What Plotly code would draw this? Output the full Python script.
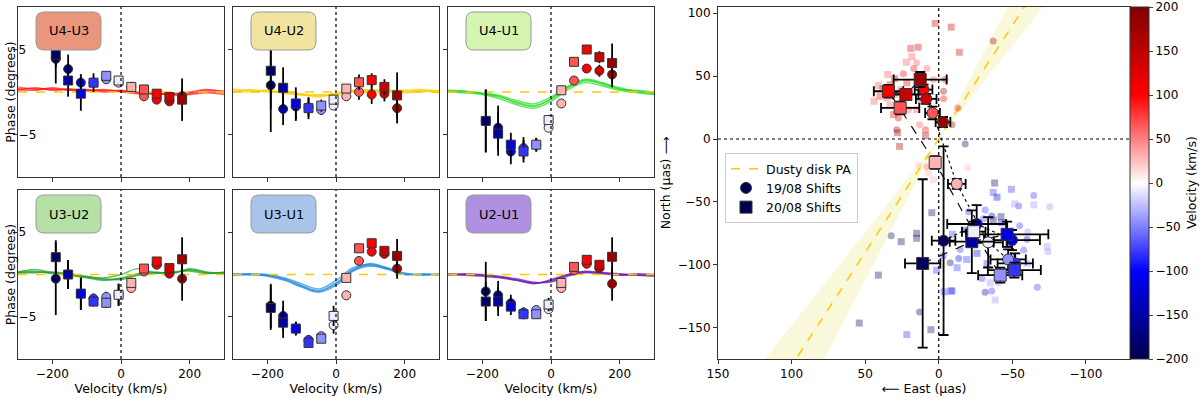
import math
import plotly.graph_objects as go

W, H = 1200, 398

# ---------------- data: differential phases per baseline ----------------
vel = [-190, -154, -117, -80, -43, -7, 30, 67, 104, 141, 178]
baselines = ["U4-U3", "U4-U2", "U4-U1", "U3-U2", "U3-U1", "U2-U1"]

# 19/08 (circles)
ph19_u4u3 = [3.9, 2.7, 1.1, 1.1, 1.5, 1.1, 0.6, -0.5, -0.9, -1.1, -0.5]
er19_u4u3 = [1.0, 1.7, 1.0, 0.6, 0.3, 0.3, 0.3, 0.3, 0.3, 0.4, 1.0]
ph19_u4u2 = [0.8, -2.0, -1.7, -1.8, -2.1, -1.6, -0.5, 0.0, -0.3, -0.2, -1.9]
er19_u4u2 = [5.5, 1.9, 1.7, 1.1, 0.6, 0.4, 0.4, 0.9, 1.1, 0.9, 1.8]
ph19_u4u1 = [-3.4, -4.2, -7.0, -6.6, -6.2, -4.2, -1.35, 1.35, 2.76, 2.5, 2.06]
er19_u4u1 = [3.7, 2.6, 1.5, 1.3, 0.8, 0.4, 0.4, 0.4, 0.5, 0.7, 1.5]
ph19_u3u2 = [-0.5, 0.0, -2.3, -2.85, -2.65, -2.4, -1.6, 0.36, 1.15, 0.1, -0.5]
er19_u3u2 = [4.3, 1.7, 1.9, 0.6, 0.6, 1.3, 0.3, 0.3, 0.4, 0.4, 2.6]
ph19_u3u1 = [-3.7, -4.9, -6.4, -7.75, -7.3, -6.0, -2.46, 1.6, 2.7, 2.45, 0.7]
er19_u3u1 = [2.6, 1.8, 0.8, 0.6, 0.4, 1.0, 0.3, 0.3, 0.4, 0.4, 1.2]
ph19_u2u1 = [-2.0, -2.46, -3.4, -4.5, -4.2, -4.1, -1.6, 0.5, 1.27, 0.76, -1.1]
er19_u2u1 = [3.5, 1.7, 1.0, 0.6, 0.4, 0.5, 0.3, 0.3, 0.4, 0.4, 2.0]

# 20/08 (squares)
ph20_u4u3 = [4.4, 1.35, -0.2, 1.1, 1.9, 1.35, 0.6, 0.3, -0.2, -0.6, -0.9]
er20_u4u3 = [3.4, 1.9, 2.0, 1.1, 0.4, 0.3, 0.3, 0.3, 0.3, 0.5, 2.5]
ph20_u4u2 = [2.5, 0.5, -1.35, -1.9, -1.6, -0.9, 0.4, 1.15, 1.4, 0.6, -0.4]
er20_u4u2 = [4.5, 2.4, 1.9, 1.3, 0.7, 0.4, 0.4, 0.9, 0.8, 0.9, 2.7]
ph20_u4u1 = [-3.4, -4.9, -6.2, -7.0, -6.2, -3.3, 0.2, 3.55, 5.0, 4.1, 3.4]
er20_u4u1 = [3.7, 2.6, 1.4, 1.3, 0.8, 0.4, 0.4, 0.4, 0.5, 0.7, 2.3]
ph20_u3u2 = [2.05, 0.0, -2.26, -3.2, -3.35, -2.4, -1.0, 0.7, 1.54, 0.76, 1.8]
er20_u3u2 = [2.0, 1.7, 1.9, 0.6, 0.6, 1.3, 0.3, 0.3, 0.4, 0.4, 2.6]
ph20_u3u1 = [-3.95, -5.7, -6.4, -8.1, -7.6, -4.9, -0.4, 3.1, 3.7, 2.8, 2.2]
er20_u3u1 = [2.6, 1.8, 0.8, 0.6, 0.4, 1.2, 0.3, 0.3, 0.4, 0.4, 2.0]
ph20_u2u1 = [-3.2, -3.2, -3.8, -4.7, -4.7, -3.55, -1.0, 0.9, 1.74, 1.15, 2.1]
er20_u2u1 = [2.3, 1.7, 1.0, 0.6, 0.4, 0.8, 0.3, 0.3, 0.4, 0.4, 2.3]

# model phase curves (several realisations per baseline)
model_v = [-300, -250, -200, -150, -100, -50, 0, 50, 100, 150, 200, 250, 300]
mod_u4u3 = [
    [0.4, 0.4, 0.3, 0.3, 0.2, 0.2, 0.1, -0.1, -0.2, -0.3, -0.2, 0.0, -0.1],
    [0.6, 0.3, 0.4, 0.2, 0.3, 0.1, 0.2, 0.0, -0.3, -0.2, -0.1, 0.2, 0.1],
    [0.2, 0.5, 0.2, 0.4, 0.1, 0.3, 0.0, -0.2, -0.1, -0.4, -0.3, -0.1, -0.3],
    [0.3, 0.2, 0.5, 0.2, 0.2, 0.0, 0.1, -0.1, -0.2, -0.2, 0.0, 0.3, 0.0],
]
mod_u4u2 = [
    [0.2, 0.2, 0.1, 0.0, -0.3, -0.4, -0.2, 0.1, 0.2, 0.1, 0.0, 0.1, 0.0],
    [0.4, 0.1, 0.2, -0.1, -0.2, -0.5, -0.1, 0.2, 0.1, 0.2, 0.2, 0.3, 0.1],
    [0.0, 0.3, 0.0, 0.1, -0.4, -0.3, -0.3, 0.0, 0.3, 0.0, -0.1, 0.0, 0.2],
    [0.1, 0.0, 0.2, -0.2, -0.3, -0.6, -0.2, 0.1, 0.2, 0.1, 0.1, 0.2, -0.1],
]
mod_u4u1 = [
    [0.1, 0.0, -0.2, -0.6, -1.2, -1.6, -0.9, 0.5, 1.3, 0.9, 0.3, 0.1, -0.1],
    [0.2, 0.1, -0.1, -0.4, -1.0, -1.4, -0.6, 0.7, 1.5, 1.1, 0.4, 0.2, 0.0],
    [0.0, -0.1, -0.3, -0.8, -1.5, -1.9, -1.1, 0.3, 1.1, 0.7, 0.2, -0.1, -0.3],
    [0.1, 0.1, -0.2, -0.5, -1.3, -1.7, -0.8, 0.6, 1.4, 1.0, 0.5, 0.0, -0.2],
]
mod_u3u2 = [
    [0.2, 0.3, 0.2, 0.0, -0.3, -0.6, -0.5, 0.0, 0.2, 0.2, 0.5, 0.2, 0.2],
    [0.3, 0.4, 0.1, -0.1, -0.4, -0.7, -0.4, 0.1, 0.3, 0.1, 0.7, 0.3, 0.1],
    [0.2, 0.2, 0.3, 0.1, -0.2, -0.5, -0.6, -0.1, 0.1, 0.3, 0.4, 0.1, 0.3],
    [0.3, 0.6, 0.2, 0.0, -0.3, -0.4, 0.0, 0.7, 0.2, 0.2, 0.6, 0.2, 0.2],
]
mod_u3u1 = [
    [0.0, 0.0, -0.1, -0.5, -1.3, -1.9, -1.0, 0.6, 1.1, 0.7, 0.1, 0.0, 0.0],
    [0.1, 0.0, -0.2, -0.7, -1.5, -2.1, -1.3, 0.4, 1.0, 0.6, 0.0, 0.1, -0.1],
    [0.0, 0.1, 0.0, -0.4, -1.1, -1.7, -0.7, 0.8, 1.2, 0.8, 0.2, -0.1, 0.1],
    [-0.1, 0.0, -0.1, -0.6, -1.4, -2.0, -1.1, 0.5, 1.3, 0.7, 0.0, 0.0, 0.0],
]
mod_u2u1 = [
    [0.0, 0.0, -0.1, -0.3, -0.6, -1.0, -0.8, -0.1, 0.3, 0.1, 0.0, 0.0, -0.1],
    [0.1, -0.1, -0.2, -0.4, -0.7, -1.1, -0.6, 0.0, 0.4, 0.2, 0.1, -0.1, 0.0],
    [0.0, 0.1, 0.0, -0.2, -0.5, -0.9, -0.9, -0.2, 0.2, 0.1, -0.1, 0.1, 0.0],
    [-0.1, 0.0, -0.1, -0.3, -0.7, -1.0, -0.7, 0.0, 0.3, 0.2, 0.0, -0.1, -0.2],
]

# ---------------- data: photocentre shifts ----------------
sh20_x = [10.9, -22.5, -46.5, -51.4, -41.8, -23.8, 2.4, 26.2, 34.1, 22.3, 12.6]
sh20_y = [-99, -81.7, -75.8, -104.3, -108.3, -73.7, -18.7, 24.7, 38, 35.4, 47.3]
sh20_xe = [12, 15, 28, 18, 15, 8, 3, 13, 10, 8.5, 18]
sh20_ye = [67, 25, 10, 6, 6, 8, 5, 5, 5, 4, 6]
sh19_x = [-3.3, -25.8, -49.8, -52, -47.2, -33.6, -12.3, 4.2, 10.3, 8.5, -2.9]
sh19_y = [-80.9, -67.6, -80.4, -99, -95.8, -82.2, -35.7, 20.7, 39.3, 31.9, 13.5]
sh19_xe = [8, 20, 19, 12, 12, 10, 6, 5, 6, 7, 5]
sh19_ye = [75, 15, 8, 8, 8, 20, 4, 5, 4, 4, 4]

# individual (faint) shift estimates: 0 = circle (19/08), 1 = square (20/08)
bg_x = [2.4, -8.5, 19, 14, 18.2, -14, 22, 15, 8, 17, 34.7, 41, 40, 33, 30.7, 27.4,
        28.5, 28, 26.6, 9, 9, 13, -3.3, -3.3, 3.6, -4.3, -9, -13, 26.2, 19.4, 20.5,
        15, 21.7, 33, 29.7, 35, 8, 7, 3.6, 13.8, -37, -19.6, -18, 38, 25, 30, 12, 44, 24,
        -38, -49.4, -64.6, -37, -39.6, -51.6, -54.3, -64.6, -75.5, -31.6, -36, -37,
        -42.6, -55, -60.5, -47.5, -73.6, -74.3, -60, -57.7, -60, -26, -32.8, -29.4,
        -35, -40.6, -31.6, -36, -38.4, -67, -13.6, -19, -14.6, -7.8, -18, -9, -45.2,
        -42.3, -30.4, 32.3, 25.5, 15, 15, 4.7, 41, 54, 21.7, 13, 5.3, 1.5, -3.7, -8.2,
        -3.1, -12.5, -9.4, -20.2]
bg_y = [92, 89, 72, 73, 65.5, 69, 61, 60.6, 56, 56, 51.3, 42.5, 34, 27, 19.4, 16.8,
        7.4, 5, -5.9, 2.6, 7.4, 11.4, 32, 38, 47.3, 47.3, 11.4, 24.7, 39.3, 36.7, 23.4,
        23.4, 44.7, 43.3, 35.4, 32.7, -22, -27, -32.5, -21.3, 78, -22.7, -4, 40, 30, 48, 30, 30, 52,
        -35, -40, -45, -42.6, -46.3, -51.6, -53.2, -52.4, -53.8, -56.4, -61.2, -64.4,
        -66.5, -69, -73.7, -83.8, -85.7, -89.7, -79.8, -88.3, -99, -91, -99, -111,
        -114.4, -114.4, -121.9, -121, -128, -118, -95, -95.8, -87.8, -98.5, -72.4, -120.8, -105.7,
        -61.8, -63.4, -77, -81.7, -75, -79, -58.6, -108.3, -146.4, -155.6, -137.6, -151.7, -104.3, -121.6, -121,
        -92.9, -102.4, -75.8, -57.8]
bg_sym = [1, 1, 1, 1, 1, 1, 1, 0, 0, 0, 1, 1, 1, 1, 1, 0,
          0, 1, 1, 1, 0, 0, 0, 0, 0, 0, 0, 0, 0, 0, 0,
          1, 1, 1, 1, 1, 0, 1, 1, 0, 0, 0, 0, 1, 0, 1, 0, 1, 0,
          1, 1, 0, 1, 1, 1, 0, 1, 0, 0, 0, 1,
          1, 0, 0, 1, 1, 0, 0, 0, 1, 1, 1, 0,
          1, 0, 0, 0, 1, 0, 0, 1, 0, 0, 0, 1, 1,
          1, 0, 0, 1, 1, 1, 1, 1, 1, 1, 0, 1, 1, 1, 1,
          0, 1, 1, 0]
bg_v = [141, 141, 104, 141, 67, 141, 67, 67, 67, 104, 67, 67, 104, 67, 104, 104,
        178, 178, 178, 178, 104, 67, 104, 178, 67, 104, 178, 104, 67, 104, 67,
        67, 104, 104, 67, 67, 67, 30, 30, 30, 178, 30, -190, 141, 141, 141, 141, 67, 104,
        -190, -80, -80, -80, -117, -43, -80, -43, -43, -80, -117, -190,
        -117, -80, -43, -117, -43, -43, -117, -80, -43, -117, -80, -80,
        -43, -43, -154, -80, -43, -80, -117, -80, -80, -190, -117, -117, -80,
        -190, -80, -190, -190, -190, -190, -190, -190, -190, -80, -190, -190, -80, -80, -80,
        -80, -80, -80, -80]

disk_pa = 151.0      # deg, E of N
disk_pa_err = 5.0

vel_range = [-300, 300]
phase_range = [-10, 10]
east_range = [150, -130]
north_range = [-175, 105]

# ---------------- styling ----------------
seismic = [[0.0, "rgb(0,0,77)"], [0.25, "rgb(0,0,255)"], [0.5, "rgb(255,255,255)"],
           [0.75, "rgb(255,0,0)"], [1.0, "rgb(128,0,0)"]]
FONT = "DejaVu Sans"

panels = [
    (ph19_u4u3, er19_u4u3, ph20_u4u3, er20_u4u3, mod_u4u3),
    (ph19_u4u2, er19_u4u2, ph20_u4u2, er20_u4u2, mod_u4u2),
    (ph19_u4u1, er19_u4u1, ph20_u4u1, er20_u4u1, mod_u4u1),
    (ph19_u3u2, er19_u3u2, ph20_u3u2, er20_u3u2, mod_u3u2),
    (ph19_u3u1, er19_u3u1, ph20_u3u1, er20_u3u1, mod_u3u1),
    (ph19_u2u1, er19_u2u1, ph20_u2u1, er20_u2u1, mod_u2u1),
]
line_cols = ["rgba(255,20,20,0.65)", "rgba(255,205,0,0.7)", "rgba(30,220,30,0.7)",
             "rgba(30,160,40,0.7)", "rgba(30,135,220,0.7)", "rgba(110,30,170,0.7)"]
box_cols = ["rgb(233,150,125)", "rgb(240,228,160)", "rgb(213,244,176)",
            "rgb(182,224,166)", "rgb(168,196,232)", "rgb(176,144,224)"]

cols_px = [(18, 224), (233, 439), (448, 654)]
rows_px = [(7, 177), (190, 359)]


def xd(a, b):
    return [a / W, b / W]


def yd(a, b):
    return [1 - b / H, 1 - a / H]


def rounded(x0, y0, x1, y1, r):
    def p(x, y):
        return f"{x / W:.5f},{1 - y / H:.5f}"
    return (f"M {p(x0 + r, y0)} L {p(x1 - r, y0)} Q {p(x1, y0)} {p(x1, y0 + r)} "
            f"L {p(x1, y1 - r)} Q {p(x1, y1)} {p(x1 - r, y1)} L {p(x0 + r, y1)} "
            f"Q {p(x0, y1)} {p(x0, y1 - r)} L {p(x0, y0 + r)} Q {p(x0, y0)} {p(x0 + r, y0)} Z")


fig = go.Figure()
shapes = []
annotations = []
axis_common = dict(showline=True, linecolor="#333", linewidth=1, mirror=True,
                   ticks="outside", ticklen=4, tickcolor="#333", showgrid=False,
                   zeroline=False, automargin=False, tickfont=dict(size=12, color="black"))

for i, (p19, e19, p20, e20, mods) in enumerate(panels):
    n = i + 1
    sfx = "" if n == 1 else str(n)
    xa, ya = "x" + sfx, "y" + sfx
    r, c = divmod(i, 3)
    for curve in mods:
        fig.add_trace(go.Scatter(x=model_v, y=curve, mode="lines", xaxis=xa, yaxis=ya,
                                 line=dict(color=line_cols[i], width=1.4, shape="spline"),
                                 showlegend=False, hoverinfo="skip"))
    fig.add_trace(go.Scatter(x=vel_range, y=[0, 0], mode="lines", xaxis=xa, yaxis=ya,
                             line=dict(color="#FFC800", width=1.5, dash="dash"),
                             showlegend=False, hoverinfo="skip"))
    for ph, er, sym in ((p19, e19, "circle"), (p20, e20, "square")):
        fig.add_trace(go.Scatter(
            x=vel, y=ph, mode="markers", xaxis=xa, yaxis=ya, showlegend=False,
            error_y=dict(type="data", array=er, color="black", thickness=1.8, width=0),
            marker=dict(symbol=sym, size=9, color=vel, colorscale=seismic, cmin=-200, cmax=200,
                        line=dict(color="#333", width=1))))
    fig.layout["xaxis" + sfx] = dict(axis_common, domain=xd(*cols_px[c]), range=vel_range,
                                     anchor=ya, tickvals=[-200, 0, 200], showticklabels=(r == 1),
                                     title=dict(text="Velocity (km/s)" if r == 1 else "",
                                                font=dict(size=12.5), standoff=2))
    fig.layout["yaxis" + sfx] = dict(axis_common, domain=yd(*rows_px[r]), range=phase_range,
                                     anchor=xa, tickvals=[-5, 5], showticklabels=(c == 0),
                                     ticklabelposition="inside",
                                     title=dict(text="Phase (degrees)" if c == 0 else "",
                                                font=dict(size=12.5), standoff=0))
    shapes.append(dict(type="line", xref=xa, yref=ya + " domain", x0=0, x1=0, y0=0, y1=1,
                       line=dict(color="black", width=1.2, dash="dot"), layer="above"))
    bx0, by0 = cols_px[c][0] + 18, rows_px[r][0] + 5
    shapes.append(dict(type="path", xref="paper", yref="paper",
                       path=rounded(bx0, by0, bx0 + 65, by0 + 38, 8),
                       fillcolor=box_cols[i], line=dict(color="#999", width=1), layer="above"))
    annotations.append(dict(x=(bx0 + 32.5) / W, y=1 - (by0 + 19) / H, xref="paper", yref="paper",
                            xanchor="center", yanchor="middle",
                            text=baselines[i], showarrow=False, font=dict(size=13, color="black")))

# ---------------- right panel: shifts ----------------
R = 400
a1, a2 = math.radians(disk_pa - disk_pa_err), math.radians(disk_pa + disk_pa_err)
wedge_x = [0, R * math.sin(a1), R * math.sin(a2), 0, None, 0, -R * math.sin(a1), -R * math.sin(a2), 0]
wedge_y = [0, R * math.cos(a1), R * math.cos(a2), 0, None, 0, -R * math.cos(a1), -R * math.cos(a2), 0]
a0 = math.radians(disk_pa)
fig.add_trace(go.Scatter(x=wedge_x, y=wedge_y, mode="lines", fill="toself",
                         fillcolor="rgba(240,236,150,0.35)", line=dict(width=0),
                         xaxis="x7", yaxis="y7", showlegend=False, hoverinfo="skip"))
fig.add_trace(go.Scatter(x=[-R * math.sin(a0), R * math.sin(a0)], y=[-R * math.cos(a0), R * math.cos(a0)],
                         mode="lines", line=dict(color="#FFC800", width=1.5, dash="dash"),
                         xaxis="x7", yaxis="y7", name="Dusty disk PA"))

for s, sym in ((0, "circle"), (1, "square")):
    idx = [k for k in range(len(bg_x)) if bg_sym[k] == s]
    fig.add_trace(go.Scatter(
        x=[bg_x[k] for k in idx], y=[bg_y[k] for k in idx], mode="markers",
        xaxis="x7", yaxis="y7", showlegend=False, hoverinfo="skip",
        marker=dict(symbol=sym, size=7, opacity=0.35, color=[bg_v[k] for k in idx],
                    colorscale=seismic, cmin=-200, cmax=200, line=dict(width=0))))

fig.add_trace(go.Scatter(x=sh19_x, y=sh19_y, mode="lines", xaxis="x7", yaxis="y7",
                         line=dict(color="black", width=1.1, dash="dot"), showlegend=False))
fig.add_trace(go.Scatter(x=sh20_x, y=sh20_y, mode="lines", xaxis="x7", yaxis="y7",
                         line=dict(color="black", width=1.1, dash="dash"), showlegend=False))

fig.add_trace(go.Scatter(
    x=sh19_x, y=sh19_y, mode="markers", xaxis="x7", yaxis="y7", showlegend=False,
    error_x=dict(type="data", array=sh19_xe, color="black", thickness=1.8, width=5),
    error_y=dict(type="data", array=sh19_ye, color="black", thickness=1.8, width=5),
    marker=dict(symbol="circle", size=11, color=vel, colorscale=seismic, cmin=-200, cmax=200,
                line=dict(color="#333", width=1), showscale=True,
                colorbar=dict(x=1130 / W, xanchor="left", y=1 - 7 / H, yanchor="top",
                              len=352, lenmode="pixels", thickness=19, thicknessmode="pixels",
                              xpad=0, ypad=0, outlinewidth=1, outlinecolor="#333",
                              tickvals=[-200, -150, -100, -50, 0, 50, 100, 150, 200],
                              ticks="outside", ticklen=4, tickfont=dict(size=12)))))
fig.add_trace(go.Scatter(
    x=sh20_x, y=sh20_y, mode="markers", xaxis="x7", yaxis="y7", showlegend=False,
    error_x=dict(type="data", array=sh20_xe, color="black", thickness=1.8, width=5),
    error_y=dict(type="data", array=sh20_ye, color="black", thickness=1.8, width=5),
    marker=dict(symbol="square", size=12, color=vel, colorscale=seismic, cmin=-200, cmax=200,
                line=dict(color="#333", width=1))))

# legend entries
fig.add_trace(go.Scatter(x=[None], y=[None], mode="markers", xaxis="x7", yaxis="y7",
                         name="19/08 Shifts",
                         marker=dict(symbol="circle", size=11, color="rgb(0,0,77)",
                                     line=dict(color="#333", width=1))))
fig.add_trace(go.Scatter(x=[None], y=[None], mode="markers", xaxis="x7", yaxis="y7",
                         name="20/08 Shifts",
                         marker=dict(symbol="square", size=12, color="rgb(0,0,77)",
                                     line=dict(color="#333", width=1))))

annotations.append(dict(x=1191 / W, y=1 - 183 / H, xref="paper", yref="paper",
                        xanchor="center", yanchor="middle", textangle=-90,
                        text="Velocity (km/s)", showarrow=False, font=dict(size=12.5)))

fig.layout["xaxis7"] = dict(axis_common, domain=xd(718, 1130), range=east_range, anchor="y7",
                            tickvals=[150, 100, 50, 0, -50, -100],
                            title=dict(text="⟵ East (μas)", font=dict(size=12.5), standoff=2))
fig.layout["yaxis7"] = dict(axis_common, domain=yd(7, 359), range=north_range, anchor="x7",
                            tickvals=[100, 50, 0, -50, -100, -150],
                            title=dict(text="North (μas) ⟶", font=dict(size=12.5), standoff=4))
shapes.append(dict(type="line", xref="x7", yref="y7 domain", x0=0, x1=0, y0=0, y1=1,
                   line=dict(color="black", width=1.2, dash="dot"), layer="below"))
shapes.append(dict(type="line", xref="x7 domain", yref="y7", x0=0, x1=1, y0=0, y1=0,
                   line=dict(color="black", width=1.2, dash="dot"), layer="below"))

fig.update_layout(
    width=W, height=H, margin=dict(l=0, r=0, t=0, b=0, autoexpand=False),
    paper_bgcolor="white", plot_bgcolor="white",
    font=dict(family=FONT, size=12, color="black"),
    shapes=shapes, annotations=annotations,
    legend=dict(x=725 / W, y=1 - 153 / H, xanchor="left", yanchor="top",
                bgcolor="rgba(255,255,255,0.85)", bordercolor="#ccc", borderwidth=1,
                font=dict(size=12.5), tracegroupgap=2, itemwidth=30),
)

# the page's default body margin would offset the figure by 8px
fig.write_html("out.html", config={"displayModeBar": False},
               post_script="document.body.style.margin='0px';")
